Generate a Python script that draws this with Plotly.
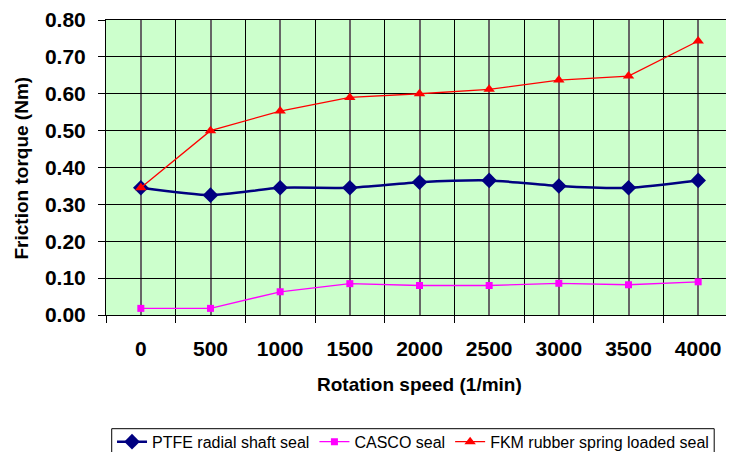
import plotly.graph_objects as go

categories = ["0", "500", "1000", "1500", "2000", "2500", "3000", "3500", "4000"]
ptfe = [0.345, 0.325, 0.345, 0.345, 0.36, 0.365, 0.35, 0.345, 0.365]
casco = [0.018, 0.018, 0.063, 0.085, 0.08, 0.08, 0.086, 0.082, 0.09]
fkm = [0.345, 0.50, 0.553, 0.59, 0.60, 0.612, 0.637, 0.648, 0.743]
y_ticks = [0.0, 0.1, 0.2, 0.3, 0.4, 0.5, 0.6, 0.7, 0.8]

xpos = list(range(len(categories)))
font = "Liberation Sans, Arial, sans-serif"

fig = go.Figure()
fig.add_trace(go.Scatter(
    x=xpos, y=ptfe, name="PTFE radial shaft seal", mode="lines+markers",
    line=dict(color="#000080", width=2.5, shape="spline", smoothing=0.6),
    marker=dict(symbol="diamond", size=12, color="#000080")))
fig.add_trace(go.Scatter(
    x=xpos, y=casco, name="CASCO seal", mode="lines+markers",
    line=dict(color="#FF00FF", width=1.3),
    marker=dict(symbol="square", size=7, color="#FF00FF")))
fig.add_trace(go.Scatter(
    x=xpos, y=fkm, name="FKM rubber spring loaded seal", mode="lines+markers",
    line=dict(color="#FF0000", width=1.3),
    marker=dict(symbol="triangle-up", size=10, color="#FF0000")))

# page body has an 8px margin, so the figure is sized to fit the window
fig.update_layout(
    width=726, height=444,
    margin=dict(l=98, r=1, t=12, b=137, autoexpand=False),
    paper_bgcolor="white", plot_bgcolor="#CCFFCC",
    font=dict(family=font, color="black"),
    showlegend=True,
    legend=dict(orientation="h", x=0.0096, y=-0.372, xanchor="left", yanchor="top",
                borderwidth=0, bgcolor="rgba(0,0,0,0)",
                font=dict(size=16, family=font), itemwidth=30, tracegroupgap=0),
    shapes=[dict(type="rect", xref="paper", yref="paper",
                 x0=0.0091, x1=0.97, y0=-0.3854, y1=-0.55,
                 line=dict(color="black", width=1), fillcolor="rgba(0,0,0,0)",
                 layer="below")],
    xaxis=dict(
        range=[-0.5, len(categories) - 0.5], automargin=False,
        tickmode="array", tickvals=xpos, ticktext=categories,
        ticks="outside", ticklen=15, tickcolor="rgba(0,0,0,0)",
        tickfont=dict(size=21, family=font, color="black", weight="bold"),
        showgrid=True, gridcolor="#666666", gridwidth=1.5,
        minor=dict(tick0=0.5, dtick=1, ticks="outside", ticklen=7, tickcolor="black",
                   showgrid=True, gridcolor="black", gridwidth=1),
        showline=True, linecolor="black", linewidth=1, mirror=True,
        zeroline=False, fixedrange=True),
    yaxis=dict(
        range=[0, 0.8], automargin=False, tickmode="array", tickvals=y_ticks,
        tickformat=".2f", ticks="outside", ticklen=7, tickcolor="black",
        ticklabelstandoff=8,
        tickfont=dict(size=21, family=font, color="black", weight="bold"),
        showgrid=True, gridcolor="black", gridwidth=1,
        showline=True, linecolor="black", linewidth=1, mirror=True,
        zeroline=False, fixedrange=True),
    annotations=[
        dict(text="<b>Friction torque (Nm)</b>", xref="paper", yref="paper",
             x=-0.134, y=0.5, xanchor="center", yanchor="middle", textangle=-90,
             showarrow=False, font=dict(size=19, family=font, color="black")),
        dict(text="<b>Rotation speed (1/min)</b>", xref="paper", yref="paper",
             x=0.5, y=-0.234, xanchor="center", yanchor="middle",
             showarrow=False, font=dict(size=19, family=font, color="black")),
    ],
)

fig.write_html("out.html")
